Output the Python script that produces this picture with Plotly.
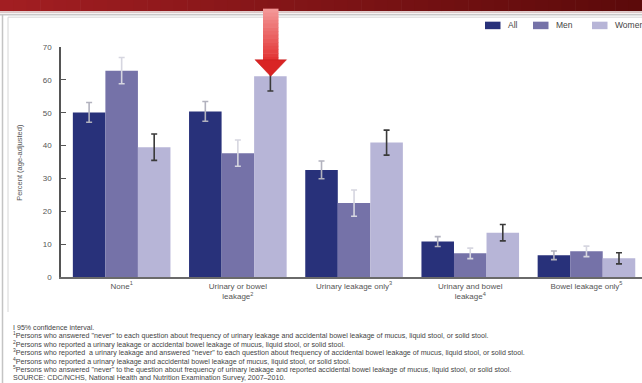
import plotly.graph_objects as go

# ---- data -------------------------------------------------------------
categories = [
    "None<sup>1</sup>",
    "Urinary or bowel<br>leakage<sup>2</sup>",
    "Urinary leakage only<sup>3</sup>",
    "Urinary and bowel<br>leakage<sup>4</sup>",
    "Bowel leakage only<sup>5</sup>",
]
series_names = ["All", "Men", "Women"]
all_values = [50.1, 50.4, 32.6, 10.8, 6.6]
men_values = [62.8, 37.7, 22.5, 7.2, 7.8]
women_values = [39.5, 61.1, 40.9, 13.5, 5.7]
all_ci = [3.0, 3.0, 2.7, 1.5, 1.3]
men_ci = [4.0, 4.0, 4.0, 1.6, 1.6]
women_ci = [4.0, 4.5, 3.8, 2.5, 1.7]
y_ticks = [0, 10, 20, 30, 40, 50, 60, 70]

footnotes = [
    "I 95% confidence interval.",
    "<sup>1</sup>Persons who answered \"never\" to each question about frequency of urinary leakage and accidental bowel leakage of mucus, liquid stool, or solid stool.",
    "<sup>2</sup>Persons who reported a urinary leakage or accidental bowel leakage of mucus, liquid stool, or solid stool.",
    "<sup>3</sup>Persons who reported  a urinary leakage and answered \"never\" to each question about frequency of accidental bowel leakage of mucus, liquid stool, or solid stool.",
    "<sup>4</sup>Persons who reported a urinary leakage and accidental bowel leakage of mucus, liquid stool, or solid stool.",
    "<sup>5</sup>Persons who answered \"never\" to the question about frequency of urinary leakage and reported accidental bowel leakage of mucus, liquid stool, or solid stool.",
    "SOURCE: CDC/NCHS, National Health and Nutrition Examination Survey, 2007\u20132010.",
]

# ---- styling ----------------------------------------------------------
colors = ["#28317a", "#7572a8", "#b7b5d7"]
err_colors = ["#b2b2be", "#d6d6e0", "#3a3a3a"]
FONT = "Arial, Liberation Sans, sans-serif"

W, H = 642, 383
L, R, T, B = 61, 0, 47.3, 277.0


def fx(xp):
    return (xp - L) / (W - L - R)


def fy(yp):
    return (B - yp) / (B - T)


fig = go.Figure()
values = [all_values, men_values, women_values]
cis = [all_ci, men_ci, women_ci]
for name, vals, ci, col, ecol in zip(series_names, values, cis, colors, err_colors):
    fig.add_trace(go.Bar(
        x=categories, y=vals, name=name,
        marker=dict(color=col, line=dict(width=0)),
        error_y=dict(type="data", array=ci, color=ecol, thickness=1.6, width=3),
        showlegend=False,
    ))

shapes = []

# top banner with a left-to-right dark red gradient
n = 48
c0, c1 = (162, 30, 34), (92, 10, 10)
for i in range(n):
    t = i / (n - 1)
    c = tuple(round(a + (b - a) * t) for a, b in zip(c0, c1))
    x0 = W * i / n
    x1 = W * (i + 1) / n + 0.6
    shapes.append(dict(type="rect", xref="paper", yref="paper",
                       x0=fx(x0), x1=fx(x1), y0=fy(11.5), y1=fy(-2),
                       fillcolor="rgb(%d,%d,%d)" % c, line=dict(width=0), layer="above"))
shapes.append(dict(type="rect", xref="paper", yref="paper",
                   x0=fx(0), x1=fx(W + 2), y0=fy(13.5), y1=fy(11.5),
                   fillcolor="#dcc8c8", line=dict(width=0), layer="above"))

# panel frame
shapes.append(dict(type="line", xref="paper", yref="paper",
                   x0=fx(0), x1=fx(W + 2), y0=fy(15), y1=fy(15),
                   line=dict(color="#c9c9c9", width=1.5)))
shapes.append(dict(type="line", xref="paper", yref="paper",
                   x0=fx(2.5), x1=fx(2.5), y0=fy(15), y1=fy(H + 2),
                   line=dict(color="#c4c4c4", width=1.5)))
shapes.append(dict(type="line", xref="paper", yref="paper",
                   x0=fx(8), x1=fx(W + 2), y0=fy(17.5), y1=fy(17.5),
                   line=dict(color="#d6d6d6", width=1)))
shapes.append(dict(type="line", xref="paper", yref="paper",
                   x0=fx(8), x1=fx(8), y0=fy(17.5), y1=fy(312),
                   line=dict(color="#d6d6d6", width=1)))

# legend swatches
legend_x = [485, 533, 592]
for xs, col in zip(legend_x, colors):
    shapes.append(dict(type="rect", xref="paper", yref="paper",
                       x0=fx(xs), x1=fx(xs + 15.5), y0=fy(29.5), y1=fy(22),
                       fillcolor=col, line=dict(width=0)))

# red call-out arrow pointing at the women's bar
n = 14
s0, s1 = (243, 150, 150), (226, 52, 52)
top, bot = 9.0, 61.0
for i in range(n):
    t = i / (n - 1)
    c = tuple(round(a + (b - a) * t) for a, b in zip(s0, s1))
    y0 = top + (bot - top) * i / n
    y1 = top + (bot - top) * (i + 1) / n + 0.5
    shapes.append(dict(type="rect", xref="paper", yref="paper",
                       x0=fx(263), x1=fx(278.5), y0=fy(y1), y1=fy(y0),
                       fillcolor="rgb(%d,%d,%d)" % c, line=dict(width=0), layer="above"))
head = "M %f,%f L %f,%f L %f,%f Z" % (fx(255), fy(60), fx(286.5), fy(60), fx(270.7), fy(76.5))
shapes.append(dict(type="path", xref="paper", yref="paper", path=head,
                   fillcolor="#d92424", line=dict(color="#c81c1c", width=0.5), layer="above"))

annotations = []
for xs, name in zip(legend_x, series_names):
    annotations.append(dict(xref="paper", yref="paper", x=fx(xs + 21), y=fy(25.8),
                            text=name, showarrow=False, xanchor="left", yanchor="middle",
                            font=dict(family=FONT, size=8.5, color="#444444")))

annotations.append(dict(xref="paper", yref="paper", x=fx(20), y=fy(163),
                        text="Percent (age-adjusted)", textangle=-90, showarrow=False,
                        xanchor="center", yanchor="middle",
                        font=dict(family=FONT, size=7.5, color="#555555")))

for i, line in enumerate(footnotes):
    annotations.append(dict(xref="paper", yref="paper", x=fx(11), y=fy(327.5 + 8.4 * i),
                            text=line, showarrow=False, xanchor="left", yanchor="middle",
                            font=dict(family=FONT, size=7.1, color="#444444")))

fig.update_layout(
    width=W, height=H,
    margin=dict(l=L, r=R, t=T, b=H - B, pad=0),
    paper_bgcolor="white", plot_bgcolor="white",
    barmode="group", bargap=0.16, bargroupgap=0,
    font=dict(family=FONT, color="#555555"),
    shapes=shapes, annotations=annotations,
    xaxis=dict(
        range=[-0.522, 4.478], showline=True, linecolor="#6a6a6a", linewidth=2,
        showgrid=False, zeroline=False, ticks="",
        tickfont=dict(family=FONT, size=8, color="#555555"),
    ),
    yaxis=dict(
        range=[0, 70], tickvals=y_ticks, showline=True, linecolor="#555555", linewidth=1.5,
        showgrid=False, zeroline=False, ticks="inside", ticklen=5, tickcolor="#555555",
        tickwidth=1.2, ticklabelstandoff=6,
        tickfont=dict(family=FONT, size=8, color="#555555"),
    ),
)

fig.write_html("out.html")
